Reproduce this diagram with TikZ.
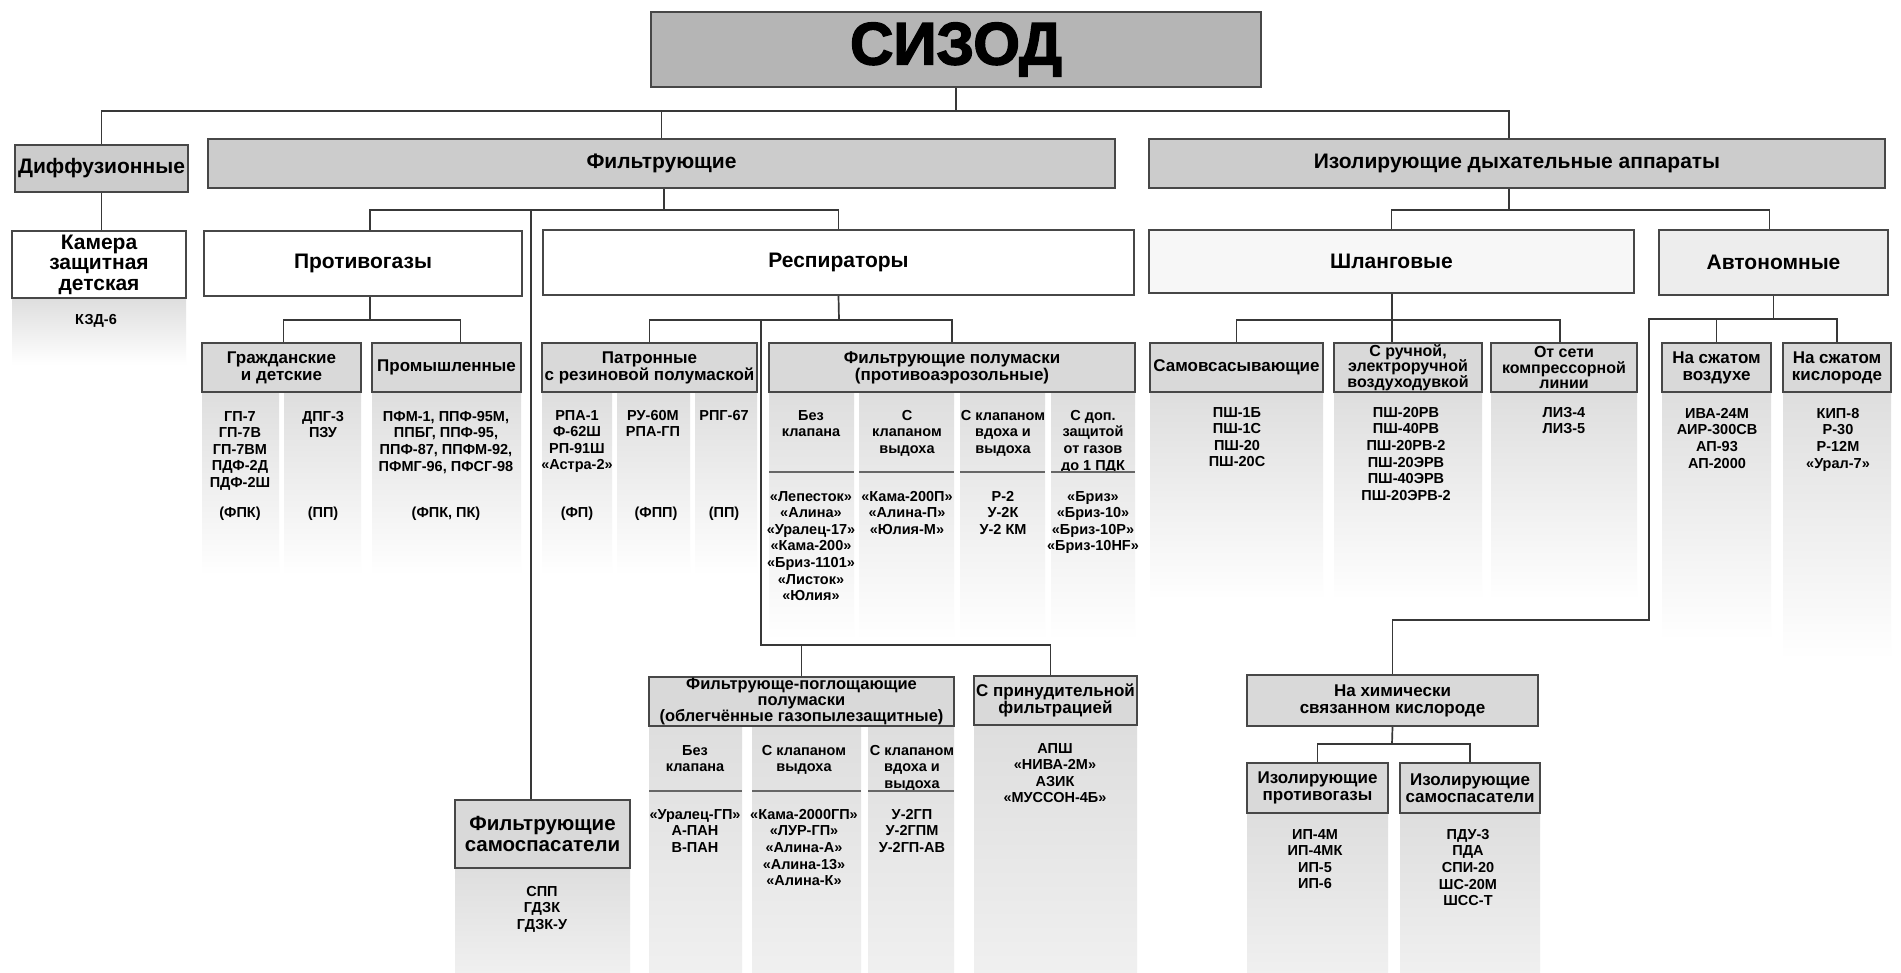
\documentclass[tikz,border=0pt]{standalone}
\usepackage{fontspec}
\setmainfont{Liberation Sans}
\newfontfamily\heavyfont[FakeBold=2.5]{Liberation Sans}
\newcommand\myfs[2]{\fontsize{#1}{#2}\selectfont}
\begin{document}
\begin{tikzpicture}[x=1pt,y=-1pt,
 box/.style={draw=black!72,line width=2pt,align=center,inner sep=0pt,font=\bfseries},
 gA/.style={box,fill=gray!58},
 gB/.style={box,fill=gray!40},
 gC/.style={box,fill=gray!30},
 wb/.style={box,fill=white},
 big/.style={font=\bfseries\myfs{21}{20.5}},
 hd/.style={font=\bfseries\myfs{17}{17}},
 hds/.style={font=\bfseries\myfs{16}{15.5}},
 it/.style={align=center,inner sep=0pt,font=\bfseries\myfs{14.5}{16.6}},
 col/.style={top color=gray!26,bottom color=white},
 colb/.style={top color=gray!26,bottom color=gray!12},
 ln/.style={draw=black!78,line width=1.7pt},
 sepl/.style={draw=black!60,line width=1.6pt}
]
\fill[white] (0,0) rectangle (1901,972);
\useasboundingbox (0,0) rectangle (1901,972);

% gray columns
\shade[col] (12,298) rectangle (186,365);
\shade[col] (202,392) rectangle (279,575);
\shade[col] (284,392) rectangle (361,575);
\shade[col] (372,392) rectangle (521,575);
\shade[col] (542,392) rectangle (612,575);
\shade[col] (617,392) rectangle (690,575);
\shade[col] (695,392) rectangle (757,575);
\shade[col] (769,392) rectangle (854,640);
\shade[col] (859,392) rectangle (954,640);
\shade[col] (960,392) rectangle (1045,640);
\shade[col] (1051,392) rectangle (1135,640);
\shade[col] (1150,392) rectangle (1323,600);
\shade[col] (1334,392) rectangle (1482,600);
\shade[col] (1491,392) rectangle (1637,600);
\shade[col] (1662,390) rectangle (1771,640);
\shade[col] (1783,390) rectangle (1891,660);
\shade[colb] (649,726) rectangle (742,972);
\shade[colb] (752,726) rectangle (861,972);
\shade[colb] (868,726) rectangle (954,972);
\shade[colb] (974,725) rectangle (1137,972);
\shade[colb] (455,868) rectangle (630,972);
\shade[colb] (1247,813) rectangle (1388,972);
\shade[colb] (1400,813) rectangle (1540,972);

% top
\node[gA,minimum width=610,minimum height=75,font=\heavyfont\bfseries\myfs{60}{60}] (sizod) at (956,49.5) {СИЗОД};
\node[gB,big,minimum width=173,minimum height=47] (diff) at (101.5,168.5) {Диффузионные};
\node[gB,big,minimum width=907,minimum height=49] (filt) at (661.5,163.5) {Фильтрующие};
\node[gB,big,minimum width=736,minimum height=49] (iso) at (1517,163.5) {Изолирующие дыхательные аппараты};

% level 2
\node[wb,big,minimum width=174,minimum height=67] (kam) at (99,264.5) {Камера\\защитная\\детская};
\node[wb,big,minimum width=318,minimum height=65] (prot) at (363,263.5) {Противогазы};
\node[wb,big,minimum width=591,minimum height=65] (resp) at (838.5,262.5) {Респираторы};
\node[wb,big,fill=gray!6,minimum width=485,minimum height=63] (shl) at (1391.5,261.5) {Шланговые};
\node[wb,big,fill=gray!14,minimum width=229,minimum height=65] (avt) at (1773.5,262.5) {Автономные};

% level 3
\node[gC,hd,minimum width=159,minimum height=49] (grazh) at (281.5,367.5) {Гражданские\\и детские};
\node[gC,hd,minimum width=149,minimum height=49] (prom) at (446.5,367.5) {Промышленные};
\node[gC,hd,minimum width=215,minimum height=49] (patr) at (649.5,367.5) {Патронные\\с резиновой полумаской};
\node[gC,hd,minimum width=366,minimum height=49] (fpm) at (952,367.5) {Фильтрующие полумаски\\(противоаэрозольные)};
\node[gC,hd,minimum width=173,minimum height=49] (samov) at (1236.5,367.5) {Самовсасывающие};
\node[gC,hds,minimum width=148,minimum height=49] (sruch) at (1408,367.5) {С ручной,\\электроручной\\воздуходувкой};
\node[gC,hds,minimum width=146,minimum height=49] (otseti) at (1564,367.5) {От сети\\компрессорной\\линии};
\node[gC,hd,minimum width=109,minimum height=49] (vozd) at (1716.5,367.5) {На сжатом\\воздухе};
\node[gC,hd,minimum width=108,minimum height=49] (kisl) at (1837,367.5) {На сжатом\\кислороде};

% level 4
\node[gC,font=\bfseries\myfs{16.5}{16.2},minimum width=305,minimum height=49] (fpp) at (801.5,701.5) {Фильтрующе-поглощающие\\полумаски\\(облегчённые газопылезащитные)};
\node[gC,hd,minimum width=163,minimum height=49] (sprin) at (1055.5,700.5) {С принудительной\\фильтрацией};
\node[gC,font=\bfseries\myfs{20.5}{21},minimum width=175,minimum height=68] (fsam) at (542.5,834) {Фильтрующие\\самоспасатели};
\node[gC,hd,minimum width=291,minimum height=51] (himich) at (1392.5,700.5) {На химически\\связанном кислороде};
\node[gC,hd,minimum width=141,minimum height=50] (izprot) at (1317.5,788) {Изолирующие\\противогазы};
\node[gC,hd,minimum width=140,minimum height=50] (izsam) at (1470,788) {Изолирующие\\самоспасатели};

% lists
\node[it] (kzd) at (96,321) {КЗД-6};
\node[it,anchor=north] (l1) at (240,411) {ГП-7\\ГП-7В\\ГП-7ВМ\\ПДФ-2Д\\ПДФ-2Ш};
\node[it,anchor=north] (l2) at (323,411) {ДПГ-3\\ПЗУ};
\node[it,anchor=north] (l3) at (446,411) {ПФМ-1, ППФ-95М,\\ППБГ, ППФ-95,\\ППФ-87, ППФМ-92,\\ПФМГ-96, ПФСГ-98};
\node[it] (c1) at (240,514) {(ФПК)};
\node[it] (c2) at (323,514) {(ПП)};
\node[it] (c3) at (446,514) {(ФПК, ПК)};
\node[it,anchor=north] (l4) at (577,410) {РПА-1\\Ф-62Ш\\РП-91Ш\\«Астра-2»};
\node[it,anchor=north] (l5) at (653,410) {РУ-60М\\РПА-ГП};
\node[it,anchor=north] (l6) at (724,410) {РПГ-67};
\node[it] (c4) at (577,514) {(ФП)};
\node[it] (c5) at (656,514) {(ФПП)};
\node[it] (c6) at (724,514) {(ПП)};
\node[it,anchor=north] (h1) at (811,410) {Без\\клапана};
\node[it,anchor=north] (h2) at (907,410) {С\\клапаном\\выдоха};
\node[it,anchor=north] (h3) at (1003,410) {С клапаном\\вдоха и\\выдоха};
\node[it,anchor=north] (h4) at (1093,410) {С доп.\\защитой\\от газов\\до 1 ПДК};
\node[it,anchor=north] (i1) at (811,491) {«Лепесток»\\«Алина»\\«Уралец-17»\\«Кама-200»\\«Бриз-1101»\\«Листок»\\«Юлия»};
\node[it,anchor=north] (i2) at (907,491) {«Кама-200П»\\«Алина-П»\\«Юлия-М»};
\node[it,anchor=north] (i3) at (1003,491) {Р-2\\У-2К\\У-2 КМ};
\node[it,anchor=north] (i4) at (1093,491) {«Бриз»\\«Бриз-10»\\«Бриз-10Р»\\«Бриз-10HF»};
\node[it,anchor=north] (s1) at (1237,407) {ПШ-1Б\\ПШ-1С\\ПШ-20\\ПШ-20С};
\node[it,anchor=north] (s2) at (1406,407) {ПШ-20РВ\\ПШ-40РВ\\ПШ-20РВ-2\\ПШ-20ЭРВ\\ПШ-40ЭРВ\\ПШ-20ЭРВ-2};
\node[it,anchor=north] (s3) at (1564,407) {ЛИЗ-4\\ЛИЗ-5};
\node[it,anchor=north] (a1) at (1717,408) {ИВА-24М\\АИР-300СВ\\АП-93\\АП-2000};
\node[it,anchor=north] (a2) at (1838,408) {КИП-8\\Р-30\\Р-12М\\«Урал-7»};
\node[it,anchor=north] (p1) at (695,745) {Без\\клапана};
\node[it,anchor=north] (p2) at (804,745) {С клапаном\\выдоха};
\node[it,anchor=north] (p3) at (912,745) {С клапаном\\вдоха и\\выдоха};
\node[it,anchor=north] (q1) at (695,809) {«Уралец-ГП»\\А-ПАН\\В-ПАН};
\node[it,anchor=north] (q2) at (804,809) {«Кама-2000ГП»\\«ЛУР-ГП»\\«Алина-А»\\«Алина-13»\\«Алина-К»};
\node[it,anchor=north] (q3) at (912,809) {У-2ГП\\У-2ГПМ\\У-2ГП-АВ};
\node[it,anchor=north] (r1) at (1055,743) {АПШ\\«НИВА-2М»\\АЗИК\\«МУССОН-4Б»};
\node[it,anchor=north] (f1) at (542,886) {СПП\\ГДЗК\\ГДЗК-У};
\node[it,anchor=north] (z1) at (1315,829) {ИП-4М\\ИП-4МК\\ИП-5\\ИП-6};
\node[it,anchor=north] (z2) at (1468,829) {ПДУ-3\\ПДА\\СПИ-20\\ШС-20М\\ШСС-Т};

% separators
\draw[sepl] (769,472) -- (854,472) (859,472) -- (954,472) (960,472) -- (1045,472) (1051,472) -- (1135,472);
\draw[sepl] (649,791) -- (742,791) (752,791) -- (861,791) (868,791) -- (954,791);

% connectors
\coordinate (j1) at (956,111);
\draw[ln] (sizod.south) -- (sizod.south |- j1);
\draw[ln] (diff.north) |- (j1) -| ([xshift=-8pt]iso.north);
\draw[ln] (filt.north) -- (filt.north |- j1);
\draw[ln] (diff.south) -- (diff.south |- kam.north);

\coordinate (j2) at (664,210);
\coordinate (j2b) at (531,210);
\draw[ln] (j2 |- filt.south) -- (j2);
\draw[ln] ([xshift=7pt]prot.north) |- (j2) -| (resp.north);
\draw[ln] (j2b) -- (j2b |- fsam.north);

\coordinate (j3) at (1509,210);
\draw[ln] (j3 |- iso.south) -- (j3);
\draw[ln] (shl.north) |- (j3) -| ([xshift=-4pt]avt.north);

\coordinate (j4) at (370,320);
\draw[ln] (j4 |- prot.south) -- (j4);
\draw[ln] ([xshift=2pt]grazh.north) |- (j4) -| ([xshift=14pt]prom.north);

\coordinate (j5) at (839,320);
\coordinate (j5b) at (761,320);
\coordinate (j6) at (761,645);
\draw[ln] (resp.south) -- (j5);
\draw[ln] (patr.north) |- (j5) -| (fpm.north);
\draw[ln] (j5b) -- (j6) -| ([xshift=-5pt]sprin.north);
\draw[ln] (fpp.north) -- (fpp.north |- j6);

\coordinate (j7) at (1392,320);
\draw[ln] (j7 |- shl.south) -- (j7);
\draw[ln] (samov.north) |- (j7) -| ([xshift=-4pt]otseti.north);
\draw[ln] (j7) -- (j7 |- sruch.north);

\coordinate (j8) at (1774,319);
\coordinate (j8a) at (1649,319);
\coordinate (j8b) at (1649,620);
\draw[ln] (avt.south) -- (avt.south |- j8);
\draw[ln] (kisl.north) |- (j8a) -- (j8b) -| (himich.north);
\draw[ln] (vozd.north) -- (vozd.north |- j8a);

\coordinate (j9) at (1392,744);
\draw[ln] (himich.south) -- (j9);
\draw[ln] (izprot.north) |- (j9) -| (izsam.north);
\end{tikzpicture}
\end{document}
